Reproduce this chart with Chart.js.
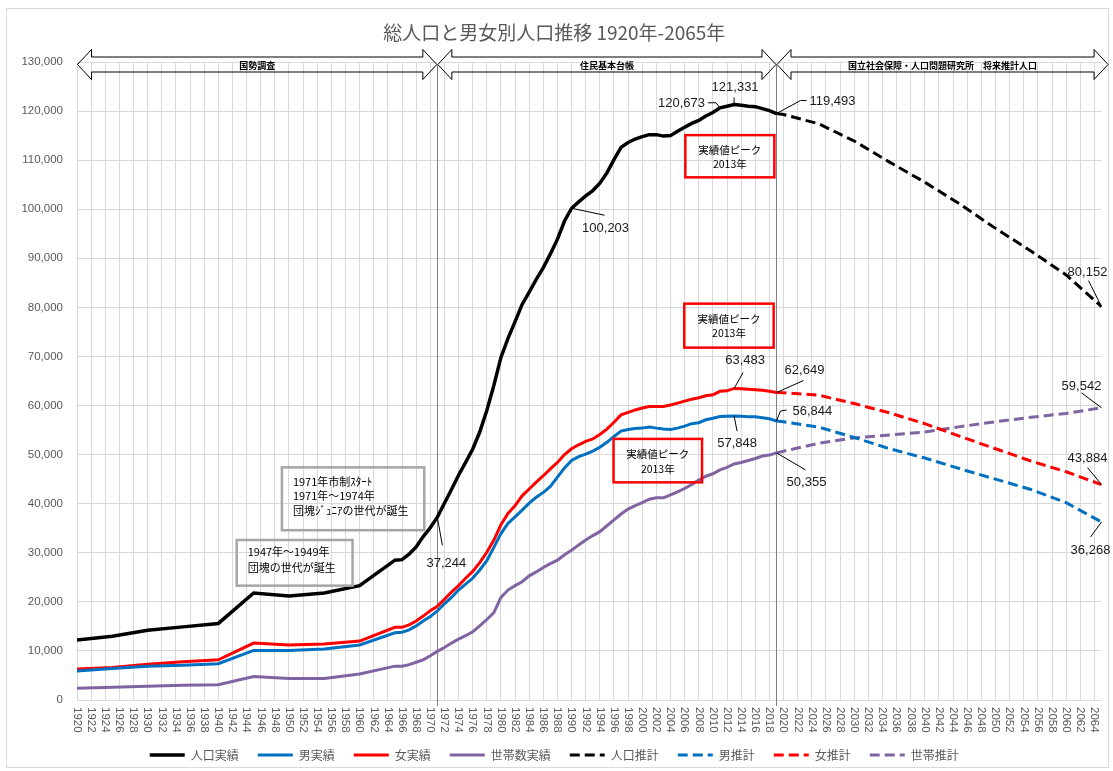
<!DOCTYPE html>
<html lang="ja">
<head>
<meta charset="utf-8">
<title>総人口と男女別人口推移</title>
<script src="https://cdn.jsdelivr.net/npm/chart.js@4.4.1/dist/chart.umd.min.js"></script>
<style>
  html, body { margin: 0; padding: 0; background: #fff; }
  #wrap { width: 1113px; height: 771px; position: relative; }
</style>
</head>
<body>
<div id="wrap"><canvas id="myChart"></canvas></div>
<script>
// 実績（国勢調査・住民基本台帳）
const actualYears = [1920, 1925, 1930, 1935, 1940, 1945, 1950, 1955, 1960, 1965,
  1966, 1967, 1968, 1969, 1970, 1971, 1972, 1973, 1974, 1975, 1976, 1977, 1978, 1979,
  1980, 1981, 1982, 1983, 1984, 1985, 1986, 1987, 1988, 1989, 1990, 1991, 1992, 1993,
  1994, 1995, 1996, 1997, 1998, 1999, 2000, 2001, 2002, 2003, 2004, 2005, 2006, 2007,
  2008, 2009, 2010, 2011, 2012, 2013, 2014, 2015, 2016, 2017, 2018, 2019];

const totalActual = [12200, 13000, 14200, 14900, 15600, 21800, 21200, 21800, 23300, 28500,
  28600, 29700, 31200, 33300, 35100, 37244, 40100, 42900, 45800, 48400, 51100, 54600, 59000, 64100,
  69800, 73700, 77100, 80600, 83100, 85700, 88100, 90900, 93900, 97600, 100203, 101500, 102700, 103800,
  105300, 107400, 110100, 112600, 113600, 114300, 114800, 115200, 115200, 114900, 115000, 115900, 116700, 117500,
  118100, 119000, 119700, 120673, 121000, 121331, 121200, 121000, 120900, 120500, 120100, 119493];

const maleActual = [5900, 6400, 6900, 7100, 7400, 10100, 10100, 10400, 11200, 13700,
  13800, 14300, 15100, 16100, 17000, 18144, 19600, 20900, 22400, 23600, 24800, 26500, 28400, 31100,
  33900, 36000, 37300, 38700, 40100, 41300, 42300, 43500, 45400, 47300, 48800, 49600, 50100, 50700,
  51500, 52500, 53700, 54800, 55100, 55300, 55400, 55600, 55400, 55200, 55100, 55400, 55800, 56300,
  56500, 57100, 57400, 57770, 57800, 57848, 57800, 57700, 57700, 57500, 57300, 56844];

const femaleActual = [6300, 6600, 7300, 7800, 8200, 11600, 11200, 11400, 12000, 14800,
  14800, 15300, 16100, 17100, 18200, 19100, 20500, 22000, 23300, 24800, 26200, 28000, 30100, 32600,
  35700, 38000, 39600, 41600, 43000, 44400, 45700, 47100, 48400, 50000, 51200, 52000, 52700, 53200,
  54100, 55200, 56600, 58100, 58600, 59100, 59500, 59800, 59800, 59800, 60100, 60500, 60900, 61300,
  61600, 62000, 62200, 62903, 63000, 63483, 63400, 63300, 63200, 63100, 62900, 62649];

const householdActual = [2400, 2600, 2800, 3000, 3100, 4800, 4400, 4400, 5300, 6900,
  6900, 7200, 7700, 8200, 9000, 9900, 10700, 11600, 12400, 13100, 13900, 15100, 16400, 17800,
  20900, 22400, 23300, 24100, 25300, 26100, 27000, 27800, 28500, 29600, 30500, 31600, 32600, 33500,
  34300, 35500, 36700, 37900, 38900, 39600, 40200, 40900, 41200, 41200, 41800, 42400, 43100, 43900,
  44800, 45600, 46100, 46900, 47400, 48100, 48400, 48800, 49200, 49700, 49900, 50355];

// 推計（国立社会保障・人口問題研究所）
const projYears = [2019, 2020, 2025, 2030, 2035, 2040, 2045, 2050, 2055, 2060, 2065];
const totalProj = [119493, 119300, 117400, 113900, 109600, 105500, 101000, 96100, 91500, 86600, 80152];
const maleProj = [56844, 56700, 55600, 53500, 51200, 49300, 47100, 45000, 42900, 40200, 36268];
const femaleProj = [62649, 62600, 62100, 60400, 58500, 56300, 53700, 51200, 48700, 46500, 43884];
const householdProj = [50355, 50700, 52300, 53400, 54000, 54600, 55700, 56700, 57600, 58400, 59542];

const seriesNames = ['人口実績', '男実績', '女実績', '世帯数実績', '人口推計', '男推計', '女推計', '世帯推計'];

const tickYears = [1920, 1922, 1924, 1926, 1928, 1930, 1932, 1934, 1936, 1938, 1940, 1942, 1944,
  1946, 1948, 1950, 1952, 1954, 1956, 1958, 1960, 1962, 1964, 1966, 1968, 1970, 1972, 1974,
  1976, 1978, 1980, 1982, 1984, 1986, 1988, 1990, 1992, 1994, 1996, 1998, 2000, 2002, 2004,
  2006, 2008, 2010, 2012, 2014, 2016, 2018, 2020, 2022, 2024, 2026, 2028, 2030, 2032, 2034,
  2036, 2038, 2040, 2042, 2044, 2046, 2048, 2050, 2052, 2054, 2056, 2058, 2060, 2062, 2064];
const yTicks = [0, 10000, 20000, 30000, 40000, 50000, 60000, 70000, 80000, 90000, 100000, 110000, 120000, 130000];

const dividerYears = [1971, 2019];

const periods = [
  { from: 1920, to: 1971, text: '国勢調査' },
  { from: 1971, to: 2019, text: '住民基本台帳' },
  { from: 2019, to: 2066, text: '国立社会保障・人口問題研究所　将来推計人口' }
];

const jp = '"Noto Sans CJK JP", sans-serif';
const num = '"Liberation Sans", Arial, sans-serif';

function pts(xs, ys) {
  return xs.map((x, i) => ({ x: x, y: ys[i] }));
}

function lookup(xs, ys, yr) {
  return ys[xs.indexOf(yr)];
}

// 吹き出し（データ点からの引出線とラベル）
const callouts = [
  { xs: actualYears, ys: totalActual, at: 1971, path: [[5, 28]], t: [9, 46], align: 'center' },
  { xs: actualYears, ys: totalActual, at: 1990, path: [[33, 7]], t: [34, 20], align: 'center' },
  { xs: actualYears, ys: totalActual, at: 2011, path: [[-4, -5], [-12, -5]], t: [-15, -4], align: 'right' },
  { xs: actualYears, ys: totalActual, at: 2013, path: [[0, -7]], t: [1, -17], align: 'center' },
  { xs: actualYears, ys: totalActual, at: 2019, path: [[24, -13], [30, -13]], t: [33, -12], align: 'left' },
  { xs: actualYears, ys: femaleActual, at: 2013, path: [[9, -16]], t: [11, -28], align: 'center' },
  { xs: actualYears, ys: maleActual, at: 2013, path: [[3, 15]], t: [3, 27], align: 'center' },
  { xs: actualYears, ys: femaleActual, at: 2019, path: [[27, -12]], t: [28, -22], align: 'center' },
  { xs: actualYears, ys: maleActual, at: 2019, path: [[4, -10], [10, -11]], t: [16, -10], align: 'left' },
  { xs: actualYears, ys: householdActual, at: 2019, path: [[29, 17]], t: [30, 30], align: 'center' },
  { xs: projYears, ys: totalProj, at: 2065, path: [[-13, -26]], t: [-14, -34], align: 'center' },
  { xs: projYears, ys: householdProj, at: 2065, path: [[-20, -15]], t: [-20, -21], align: 'center' },
  { xs: projYears, ys: femaleProj, at: 2065, path: [[-14, -17]], t: [-14, -26], align: 'center' },
  { xs: projYears, ys: maleProj, at: 2065, path: [[-11, 15]], t: [-11, 28], align: 'center' }
];

// テキストボックス（年・値の座標で配置）
const notes = [
  { x0: 1949.0, x1: 1969.15, y0: 47400, y1: 34600, color: '#a6a6a6', lines: ['1971年市制ｽﾀｰﾄ', '1971年～1974年', '団塊ｼﾞｭﾆｱの世代が誕生'], lh: 14.6, first: 14, center: false, size: 11 },
  { x0: 1942.6, x1: 1959.0, y0: 32600, y1: 23300, color: '#a6a6a6', lines: ['1947年～1949年', '団塊の世代が誕生'], lh: 16.5, first: 11.5, center: false, size: 11 },
  { x0: 2006.1, x1: 2018.7, y0: 115100, y1: 106500, color: '#ff0000', lines: ['実績値ピーク', '2013年'], lh: 14.8, first: 14.5, center: true, size: 10.5 },
  { x0: 2005.95, x1: 2018.6, y0: 80760, y1: 71800, color: '#ff0000', lines: ['実績値ピーク', '2013年'], lh: 14.8, first: 15, center: true, size: 10.5 },
  { x0: 1995.94, x1: 2008.46, y0: 53200, y1: 44350, color: '#ff0000', lines: ['実績値ピーク', '2013年'], lh: 14.8, first: 15.5, center: true, size: 10.5 }
];

const framePlugin = {
  id: 'frame',
  beforeDraw(chart) {
    const ctx = chart.ctx;
    ctx.save();
    ctx.fillStyle = '#fff';
    ctx.fillRect(0, 0, chart.width, chart.height);
    ctx.strokeStyle = '#d9d9d9';
    ctx.lineWidth = 1;
    ctx.strokeRect(6.5, 8.5, 1102, 759);
    ctx.restore();
  }
};

const notesPlugin = {
  id: 'notes',
  beforeDatasetsDraw(chart) {
    const { ctx, chartArea, scales: { x } } = chart;
    ctx.save();
    ctx.strokeStyle = '#808080';
    ctx.lineWidth = 1;
    dividerYears.forEach(yr => {
      const px = Math.round(x.getPixelForValue(yr)) + 0.5;
      ctx.beginPath();
      ctx.moveTo(px, chartArea.top + 3);
      ctx.lineTo(px, chartArea.bottom + 6);
      ctx.stroke();
    });
    ctx.restore();
  },
  afterDatasetsDraw(chart) {
    const { ctx, chartArea, scales: { x, y } } = chart;
    ctx.save();

    // 期間の矢印
    const cy = chartArea.top + 2.5;
    const hl = 14, hh = 15, sh = 7.5;
    periods.forEach(p => {
      const x0 = x.getPixelForValue(p.from) + 0.5;
      const x1 = x.getPixelForValue(p.to) - 0.5;
      ctx.beginPath();
      ctx.moveTo(x0, cy);
      ctx.lineTo(x0 + hl, cy - hh);
      ctx.lineTo(x0 + hl, cy - sh);
      ctx.lineTo(x1 - hl, cy - sh);
      ctx.lineTo(x1 - hl, cy - hh);
      ctx.lineTo(x1, cy);
      ctx.lineTo(x1 - hl, cy + hh);
      ctx.lineTo(x1 - hl, cy + sh);
      ctx.lineTo(x0 + hl, cy + sh);
      ctx.lineTo(x0 + hl, cy + hh);
      ctx.closePath();
      ctx.strokeStyle = '#000';
      ctx.lineWidth = 1;
      ctx.stroke();
      ctx.fillStyle = '#000';
      ctx.font = 'bold 9px ' + jp;
      ctx.textAlign = 'center';
      ctx.textBaseline = 'middle';
      ctx.fillText(p.text, (x0 + x1) / 2, cy + 1);
    });

    // テキストボックス
    notes.forEach(n => {
      const l = x.getPixelForValue(n.x0), r = x.getPixelForValue(n.x1);
      const t = y.getPixelForValue(n.y0), b = y.getPixelForValue(n.y1);
      ctx.strokeStyle = n.color;
      ctx.lineWidth = 2.5;
      ctx.strokeRect(l, t, r - l, b - t);
      ctx.fillStyle = '#000';
      ctx.font = n.size + 'px ' + jp;
      ctx.textBaseline = 'middle';
      ctx.textAlign = n.center ? 'center' : 'left';
      n.lines.forEach((line, i) => {
        const tx = n.center ? (l + r) / 2 : l + 11;
        ctx.fillText(line, tx, t + n.first + i * n.lh);
      });
    });

    // 吹き出し
    ctx.font = '13px ' + num;
    ctx.textBaseline = 'middle';
    callouts.forEach(c => {
      const v = lookup(c.xs, c.ys, c.at);
      const px = x.getPixelForValue(c.at), py = y.getPixelForValue(v);
      ctx.strokeStyle = '#000';
      ctx.lineWidth = 1;
      ctx.beginPath();
      ctx.moveTo(px, py);
      c.path.forEach(d => ctx.lineTo(px + d[0], py + d[1]));
      ctx.stroke();
      ctx.fillStyle = '#1a1a1a';
      ctx.textAlign = c.align;
      ctx.fillText(v.toLocaleString('en-US'), px + c.t[0], py + c.t[1]);
    });

    ctx.restore();
  },
  afterDraw(chart) {
    // 年ラベル（縦書き・上から下へ）
    const { ctx, chartArea, scales: { x } } = chart;
    ctx.save();
    ctx.fillStyle = '#595959';
    ctx.font = '11.5px ' + num;
    ctx.textAlign = 'left';
    ctx.textBaseline = 'middle';
    tickYears.forEach(yr => {
      ctx.save();
      ctx.translate(x.getPixelForValue(yr), chartArea.bottom + 7);
      ctx.rotate(Math.PI / 2);
      ctx.fillText(String(yr), 0, 0);
      ctx.restore();
    });
    ctx.restore();
  }
};

const ctx = document.getElementById('myChart');

function lineSet(label, data, color, width, dashed) {
  return {
    label: label,
    data: data,
    borderColor: color,
    backgroundColor: color,
    borderWidth: width,
    borderDash: dashed ? [10, 5] : [],
    pointRadius: 0,
    pointHoverRadius: 0,
    tension: 0,
    fill: false
  };
}

new Chart(ctx, {
  type: 'line',
  data: {
    datasets: [
      lineSet(seriesNames[0], pts(actualYears, totalActual), '#000000', 3.5, false),
      lineSet(seriesNames[1], pts(actualYears, maleActual), '#0070c0', 3, false),
      lineSet(seriesNames[2], pts(actualYears, femaleActual), '#ff0000', 3, false),
      lineSet(seriesNames[3], pts(actualYears, householdActual), '#8064a2', 3, false),
      lineSet(seriesNames[4], pts(projYears, totalProj), '#000000', 3, true),
      lineSet(seriesNames[5], pts(projYears, maleProj), '#0070c0', 3, true),
      lineSet(seriesNames[6], pts(projYears, femaleProj), '#ff0000', 3, true),
      lineSet(seriesNames[7], pts(projYears, householdProj), '#8064a2', 3, true)
    ]
  },
  options: {
    responsive: true,
    maintainAspectRatio: false,
    animation: false,
    layout: { padding: { top: 11, left: 7, right: 11.5, bottom: 0 } },
    scales: {
      x: {
        type: 'linear',
        min: 1920,
        max: 2065,
        afterBuildTicks: axis => { axis.ticks = tickYears.map(v => ({ value: v })); },
        afterFit: s => { s.height = 30; },
        ticks: { display: false },
        grid: { color: '#d9d9d9', drawTicks: false },
        border: { display: false }
      },
      y: {
        min: 0,
        max: 130000,
        afterBuildTicks: axis => { axis.ticks = yTicks.map(v => ({ value: v })); },
        afterFit: s => { s.width = 70; },
        ticks: {
          padding: 14,
          color: '#595959',
          font: { family: num, size: 11.5 },
          callback: v => v.toLocaleString('en-US')
        },
        grid: { color: '#d9d9d9', drawTicks: false },
        border: { display: false }
      }
    },
    plugins: {
      title: {
        display: true,
        text: '総人口と男女別人口推移 1920年-2065年',
        color: '#595959',
        font: { family: jp, size: 19, weight: 'normal' },
        padding: { top: 10, bottom: 18.2 }
      },
      legend: {
        position: 'bottom',
        labels: {
          boxWidth: 35,
          boxHeight: 0,
          padding: 19,
          color: '#595959',
          font: { family: jp, size: 12 }
        }
      },
      tooltip: { enabled: false }
    }
  },
  plugins: [framePlugin, notesPlugin]
});
</script>
</body>
</html>
